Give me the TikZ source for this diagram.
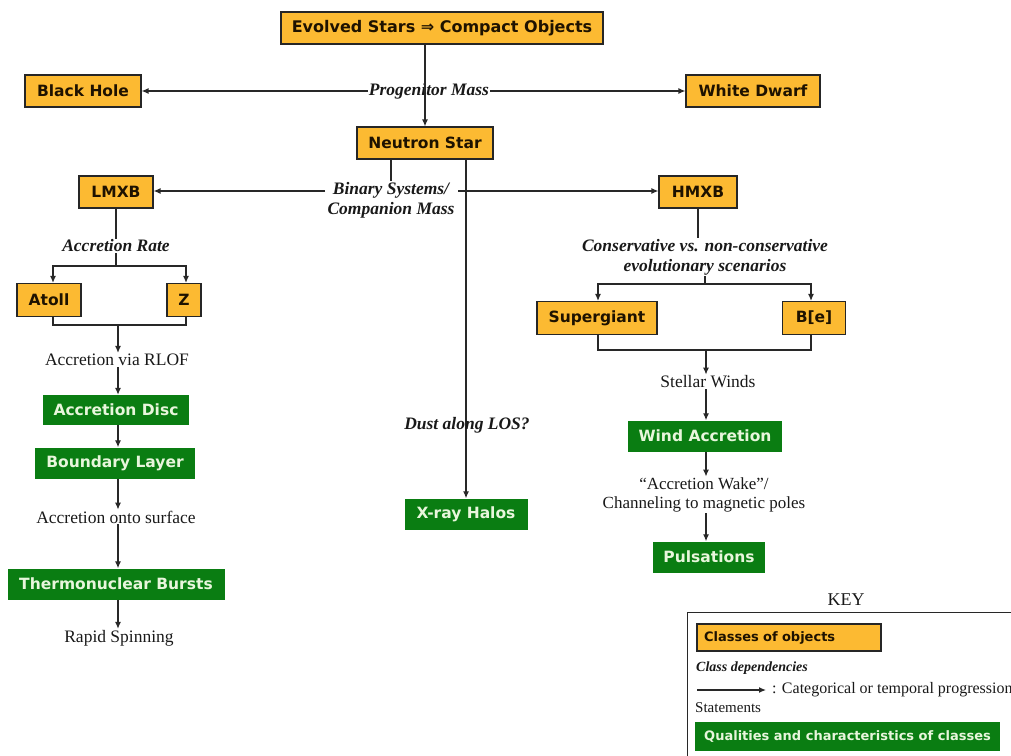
\documentclass[tikz,border=0pt]{standalone}
\usepackage{fontspec}
\setmainfont{Liberation Serif}
\newfontfamily\boxfont{DejaVu Sans}
\usetikzlibrary{arrows.meta}
\definecolor{boxorange}{RGB}{252,186,50}
\definecolor{boxgreen}{RGB}{10,125,18}
\definecolor{greentext}{RGB}{232,246,220}
\definecolor{boxtext}{RGB}{30,18,0}
\definecolor{linecol}{RGB}{40,40,40}
\tikzset{
  obox/.style={draw=black!85, line width=1.1pt, fill=boxorange, text=boxtext, minimum height=32pt, inner sep=0pt, font=\boxfont\bfseries\fontsize{15.5}{17}\selectfont},
  gbox/.style={fill=boxgreen, text=greentext, minimum height=31pt, inner sep=0pt, font=\boxfont\bfseries\fontsize{15.5}{17}\selectfont},
  dep/.style={inner sep=1pt, align=center, font=\bfseries\itshape\fontsize{17.5}{20}\selectfont, text=black!90},
  stmt/.style={inner sep=1pt, align=center, font=\fontsize{17.5}{19.5}\selectfont, text=black!90},
  arr/.style={-{Latex[length=7pt,width=6pt]}},
  ln/.style={line width=1.2pt, draw=linecol}
}
\begin{document}
\begin{tikzpicture}[x=1pt,y=-1pt]
\useasboundingbox (0,0) rectangle (1011,755);
% top
\node[obox, minimum width=322pt, font=\boxfont\bfseries\fontsize{16}{18}\selectfont] (es) at (442,28) {Evolved Stars ⇒ Compact Objects};
\node[obox, minimum width=116pt] (bh) at (83,91) {Black Hole};
\node[obox, minimum width=134pt] (wd) at (753,91) {White Dwarf};
\node[dep] (pm) at (429,91) {Progenitor Mass};
\node[obox, minimum width=136pt] (ns) at (425,143) {Neutron Star};
\draw[ln, arr] (ns.north |- es.south) -- (ns.north);
\draw[ln, arr] (pm.west) -- (bh.east);
\draw[ln, arr] (pm.east) -- (wd.west);
% binary systems
\node[dep] (bs) at (391,200) {Binary Systems/\\Companion Mass};
\node[obox, minimum width=74pt] (lmxb) at (116,192) {LMXB};
\node[obox, minimum width=78pt] (hmxb) at (698,192) {HMXB};
\draw[ln] (ns.south -| bs.north) -- (bs.north);
\coordinate (bsl) at (325,191);
\coordinate (bsr) at (458,191);
\draw[ln, arr] (bsl) -- (bsl -| lmxb.east);
\draw[ln, arr] (bsr) -- (bsr -| hmxb.west);
% x-ray halos
\node[gbox, minimum width=123pt] (xh) at (466,514) {X-ray Halos};
\draw[ln, arr] (ns.south -| xh.north) -- (xh.north);
\node[dep] (dust) at (467,425) {Dust along LOS?};
% LMXB branch
\node[dep] (ar) at (116,246) {Accretion Rate};
\draw[ln] (lmxb.south) -- (ar.north);
\node[obox, minimum width=64pt, minimum height=33pt] (atoll) at (49,300) {Atoll};
\node[obox, minimum width=34pt, minimum height=33pt] (z) at (184,300) {Z};
\coordinate (arb) at (116,266);
\draw[ln] (ar.south) -- (arb);
\draw[ln, arr] (arb) -| ([xshift=4pt]atoll.north);
\draw[ln, arr] (arb) -| ([xshift=2pt]z.north);
\coordinate (lb) at (118,325);
\draw[ln] ([xshift=4pt]atoll.south) |- (lb) -| ([xshift=2pt]z.south);
\node[stmt] (rlof) at (117,360) {Accretion via RLOF};
\draw[ln, arr] (lb) -- (rlof.north -| lb);
\node[gbox, minimum width=146pt, minimum height=30pt] (ad) at (116,410) {Accretion Disc};
\draw[ln, arr] (rlof.south -| lb) -- (ad.north -| lb);
\node[gbox, minimum width=160pt] (bl) at (115,463) {Boundary Layer};
\draw[ln, arr] (ad.south -| lb) -- (bl.north -| lb);
\node[stmt] (aos) at (116,517) {Accretion onto surface};
\draw[ln, arr] (bl.south -| lb) -- (aos.north -| lb);
\node[gbox, minimum width=217pt] (tb) at (116,584) {Thermonuclear Bursts};
\draw[ln, arr] (aos.south -| lb) -- (tb.north -| lb);
\node[stmt] (rs) at (119,638) {Rapid Spinning};
\draw[ln, arr] (tb.south -| lb) -- (rs.north -| lb);
% HMXB branch
\node[dep] (cv) at (705,257) {Conservative vs. non-conservative\\evolutionary scenarios};
\draw[ln] (hmxb.south) -- (hmxb.south |- cv.north);
\coordinate (cvb) at (705,284);
\draw[ln] (cv.south -| cvb) -- (cvb);
\node[obox, minimum width=120pt, minimum height=33pt] (sg) at (597,318) {Supergiant};
\node[obox, minimum width=63pt, minimum height=33pt] (be) at (814,318) {B[e]};
\draw[ln, arr] (cvb) -| ([xshift=1pt]sg.north);
\draw[ln, arr] (cvb) -| ([xshift=-3pt]be.north);
\coordinate (rb) at (706,350);
\draw[ln] ([xshift=1pt]sg.south) |- (rb) -| ([xshift=-3pt]be.south);
\node[stmt] (sw) at (708,382) {Stellar Winds};
\draw[ln, arr] (rb) -- (sw.north -| rb);
\node[gbox, minimum width=154pt] (wa) at (705,436) {Wind Accretion};
\draw[ln, arr] (sw.south -| rb) -- (wa.north -| rb);
\node[stmt, font=\fontsize{17}{19}\selectfont] (aw) at (704,495) {``Accretion Wake''/\\Channeling to magnetic poles};
\draw[ln, arr] (wa.south -| rb) -- (aw.north -| rb);
\node[gbox, minimum width=112pt] (pu) at (709,557) {Pulsations};
\draw[ln, arr] (aw.south -| rb) -- (pu.north -| rb);
% key
\node[stmt, font=\fontsize{18}{20}\selectfont] (key) at (846,600) {KEY};
\draw[ln, line width=1pt] (1020,612) -- (687,612) -- (687,760);
\node[obox, minimum width=184pt, minimum height=27pt, text width=170pt, align=left, font=\boxfont\bfseries\fontsize{13}{15}\selectfont] (kc) at (789,637.5) {Classes of objects};
\node[dep, anchor=west, font=\bfseries\itshape\fontsize{14}{16}\selectfont] (kd) at (695,668) {Class dependencies};
\coordinate (ka) at (697,690);
\node[stmt, anchor=west, font=\fontsize{16}{18}\selectfont] (kt) at (771,690) {: Categorical or temporal progression};
\draw[ln, arr, shorten >=5pt] (ka) -- (kt.west);
\node[stmt, anchor=west, font=\fontsize{15}{17}\selectfont] (ks) at (694,708) {Statements};
\node[gbox, minimum width=305pt, minimum height=29pt, font=\boxfont\bfseries\fontsize{13}{15}\selectfont] (kq) at (847.5,736.5) {Qualities and characteristics of classes};
\end{tikzpicture}
\end{document}
